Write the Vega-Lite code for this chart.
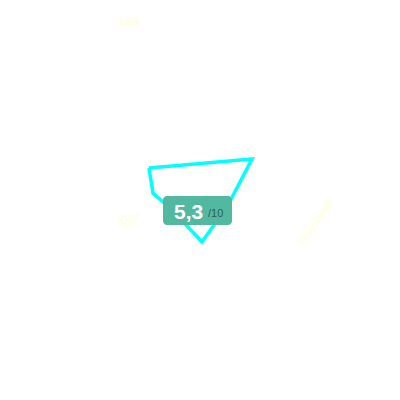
{
  "$schema": "https://vega.github.io/schema/vega-lite/v6.json",
  "width": 400,
  "height": 400,
  "autosize": "none",
  "padding": 0,
  "background": "white",
  "config": {"view": {"stroke": null}},
  "layer": [
    {
      "data": {"values": [
        {"i": 0, "x": -51, "y": 32},
        {"i": 1, "x": 52, "y": 41},
        {"i": 2, "x": 28, "y": -5},
        {"i": 3, "x": 2, "y": -42},
        {"i": 4, "x": -28, "y": -10},
        {"i": 5, "x": -47, "y": 7},
        {"i": 6, "x": -51, "y": 32}
      ]},
      "mark": {"type": "line", "color": "#00ffff", "strokeWidth": 3.5, "strokeJoin": "miter"},
      "encoding": {
        "x": {"field": "x", "type": "quantitative", "scale": {"domain": [-200, 200]}, "axis": null},
        "y": {"field": "y", "type": "quantitative", "scale": {"domain": [-200, 200]}, "axis": null},
        "order": {"field": "i"}
      }
    },
    {
      "data": {"values": [{"x": -37, "x2": 32, "y": 4, "y2": -25}]},
      "mark": {"type": "rect", "fill": "#52b8a0", "cornerRadius": 4},
      "encoding": {
        "x": {"field": "x", "type": "quantitative"},
        "x2": {"field": "x2"},
        "y": {"field": "y", "type": "quantitative"},
        "y2": {"field": "y2"}
      }
    },
    {
      "data": {"values": [{"x": -26, "y": -19, "t": "5,3"}]},
      "mark": {"type": "text", "align": "left", "baseline": "alphabetic", "fontSize": 21, "fontWeight": "bold", "font": "Liberation Sans", "color": "white"},
      "encoding": {
        "x": {"field": "x", "type": "quantitative"},
        "y": {"field": "y", "type": "quantitative"},
        "text": {"field": "t"}
      }
    },
    {
      "data": {"values": [{"x": 8, "y": -17, "t": "/10"}]},
      "mark": {"type": "text", "align": "left", "baseline": "alphabetic", "fontSize": 11, "font": "Liberation Sans", "color": "#2f5f52"},
      "encoding": {
        "x": {"field": "x", "type": "quantitative"},
        "y": {"field": "y", "type": "quantitative"},
        "text": {"field": "t"}
      }
    },
    {
      "data": {"values": [
        {"x": -72, "y": 173, "t": "339"},
        {"x": -72, "y": -25, "t": "337"}
      ]},
      "mark": {"type": "text", "align": "center", "baseline": "alphabetic", "fontSize": 14, "font": "Liberation Sans", "color": "#ffffd8"},
      "encoding": {
        "x": {"field": "x", "type": "quantitative"},
        "y": {"field": "y", "type": "quantitative"},
        "text": {"field": "t"}
      }
    },
    {
      "data": {"values": [{"x": 116, "y": -22, "t": "Grootkaal"}]},
      "mark": {"type": "text", "align": "center", "baseline": "middle", "angle": -57, "fontSize": 12, "font": "Liberation Sans", "color": "#ffffd8"},
      "encoding": {
        "x": {"field": "x", "type": "quantitative"},
        "y": {"field": "y", "type": "quantitative"},
        "text": {"field": "t"}
      }
    }
  ]
}
